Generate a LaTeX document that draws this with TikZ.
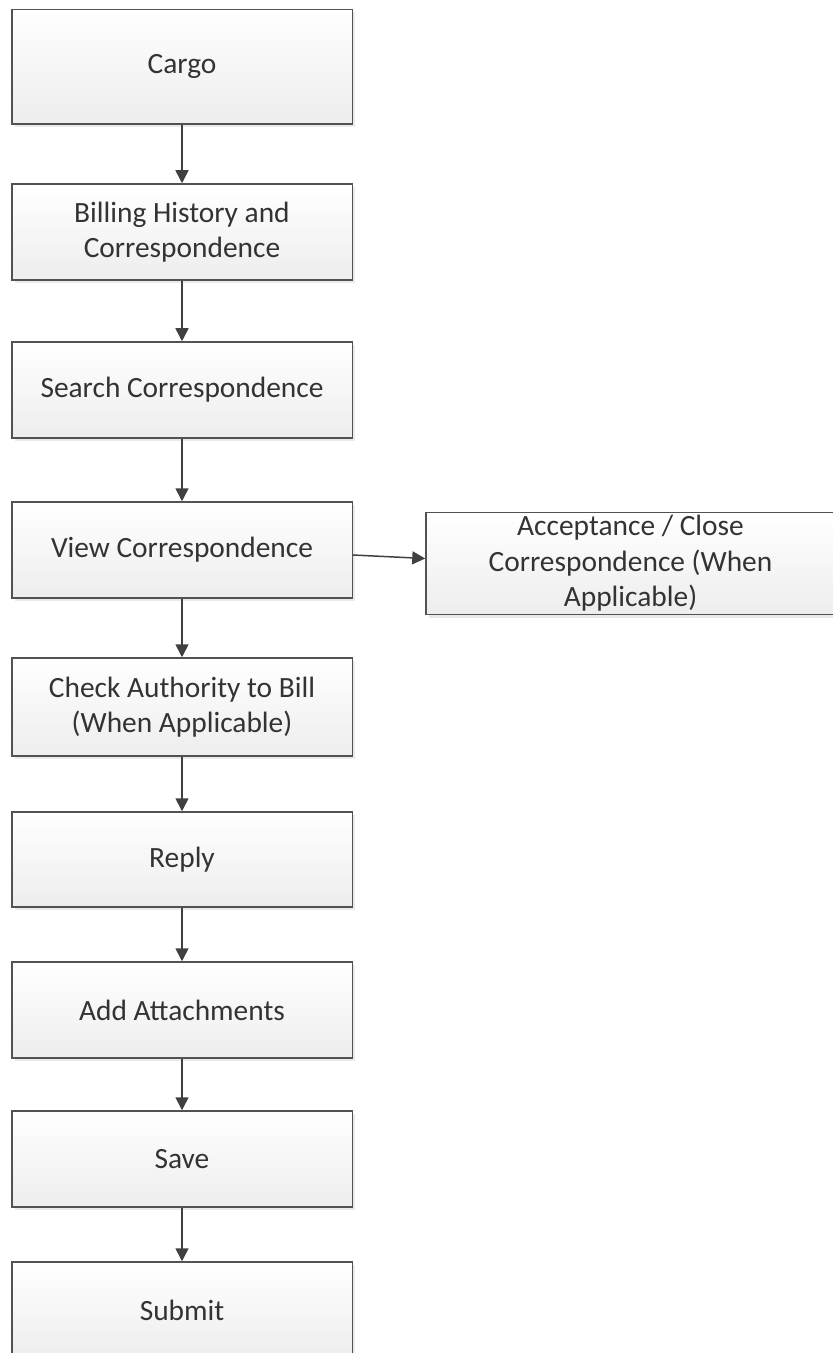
\documentclass[tikz,border=0pt]{standalone}
\usepackage{fontspec}
\setmainfont{Carlito}
\usetikzlibrary{arrows.meta, shadows}

\begin{document}
\begin{tikzpicture}[x=0.5pt, y=-0.5pt,
  stepbox/.style={draw=black!68, line width=0.75pt, top color=white, bottom color=black!7,
    drop shadow={shadow xshift=1.5pt, shadow yshift=-1.5pt, fill=black!10, opacity=0.8},
    minimum width=170.25pt, minimum height=48pt, inner sep=0pt,
    align=center, font=\fontsize{14.7}{17.8}\selectfont, text=black!80},
  flow/.style={draw=black!75, line width=0.75pt, -{Triangle[width=6.5pt,length=6.5pt]}}]
\useasboundingbox (0,0) rectangle (833,1353);

\node[stepbox, minimum height=57.25pt] (cargo) at (182,66.75) {Cargo};
\node[stepbox] (history) at (182,232) {Billing History and\\Correspondence};
\node[stepbox] (search) at (182,390) {Search Correspondence};
\node[stepbox] (view) at (182,550) {View Correspondence};
\node[stepbox, minimum height=49pt] (check) at (182,707) {Check Authority to Bill\\(When Applicable)};
\node[stepbox, minimum height=47.5pt] (reply) at (182,859.5) {Reply};
\node[stepbox] (attach) at (182,1010) {Add Attachments};
\node[stepbox] (save) at (182,1159) {Save};
\node[stepbox] (submit) at (182,1310) {Submit};

\node[stepbox, minimum width=204.5pt, minimum height=51pt] (accept) at (630.5,563.5)
  {Acceptance / Close\\Correspondence (When\\Applicable)};

\draw[flow] (cargo) -- (history);
\draw[flow] (history) -- (search);
\draw[flow] (search) -- (view);
\draw[flow] (view) -- (check);
\draw[flow] (check) -- (reply);
\draw[flow] (reply) -- (attach);
\draw[flow] (attach) -- (save);
\draw[flow] (save) -- (submit);
\draw[flow] ([yshift=-2.5pt]view.east) -- ([yshift=2.5pt]accept.west);
\end{tikzpicture}
\end{document}
